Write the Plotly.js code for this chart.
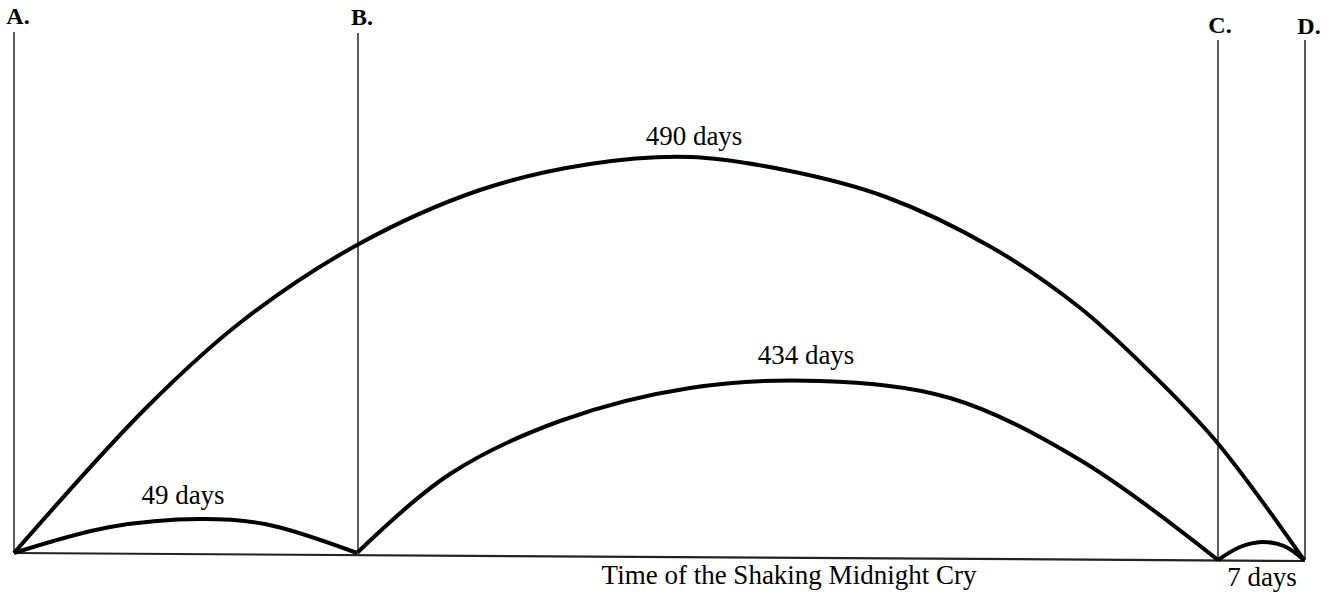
<!DOCTYPE html>
<html>
<head>
<meta charset="utf-8">
<script src="https://cdn.plot.ly/plotly-3.0.1.min.js"></script>
<style>html,body{margin:0;padding:0;background:#fff;}#chart{width:1328px;height:596px;}</style>
</head>
<body>
<div id="chart"></div>
<script>
// Diagram coordinates (x: left→right, y: top→bottom)
const markerNames = ['A.', 'B.', 'C.', 'D.'];
const markerX = [14, 358, 1218, 1305];
const markerTop = [32, 33, 40, 40];
const markerBase = [553, 553, 560, 560];
const markerLabelX = [18, 362, 1220, 1309];
const markerLabelY = [18, 19, 27, 28];

const baseX = [14, 1305];
const baseY = [553, 561];

const arc490X = [14, 147, 241, 357, 480, 590, 690, 790, 886, 991, 1079, 1145, 1215, 1304];
const arc490Y = [553, 407, 322, 245, 190, 164, 157, 171, 197, 247, 307, 367, 440, 560];

const arc434X = [357, 450, 560, 690, 820, 950, 1080, 1218];
const arc434Y = [553, 474, 421, 388, 381, 398, 460, 560];

const arc49X = [14, 110, 200, 265, 357];
const arc49Y = [553, 527, 519, 524, 553];

const arc7X = [1218, 1240, 1262, 1284, 1304];
const arc7Y = [560, 547, 542, 546, 560];

const spanLabels = ['490 days', '434 days', '49 days', '7 days', 'Time of the Shaking Midnight Cry'];
const spanLabelX = [694, 806, 183, 1262, 789];
const spanLabelY = [138, 357, 497, 579, 577];

const traces = [];
// vertical marker lines
for (let i = 0; i < markerNames.length; i++) {
  traces.push({x: [markerX[i], markerX[i]], y: [markerTop[i], markerBase[i]], mode: 'lines',
    line: {color: '#333', width: 1.6}, hoverinfo: 'skip', showlegend: false});
}
// baseline
traces.push({x: baseX, y: baseY, mode: 'lines', line: {color: '#222', width: 2.2}, hoverinfo: 'skip', showlegend: false});
// arcs
[[arc490X, arc490Y], [arc434X, arc434Y], [arc49X, arc49Y], [arc7X, arc7Y]].forEach(a => {
  traces.push({x: a[0], y: a[1], mode: 'lines', line: {color: '#000', width: 4, shape: 'spline', smoothing: 1},
    hoverinfo: 'skip', showlegend: false});
});
// marker labels
traces.push({x: markerLabelX, y: markerLabelY, mode: 'text', text: markerNames.map(t => '<b>' + t + '</b>'),
  textfont: {family: 'Liberation Serif, serif', size: 24, color: '#000'}, hoverinfo: 'skip', showlegend: false});
// span labels
traces.push({x: spanLabelX, y: spanLabelY, mode: 'text', text: spanLabels,
  textfont: {family: 'Liberation Serif, serif', size: 27, color: '#000'}, hoverinfo: 'skip', showlegend: false});

const layout = {
  width: 1328, height: 596,
  margin: {l: 0, r: 0, t: 0, b: 0},
  paper_bgcolor: '#fff', plot_bgcolor: '#fff',
  xaxis: {range: [0, 1328], visible: false, fixedrange: true},
  yaxis: {range: [596, 0], visible: false, fixedrange: true},
  showlegend: false
};
Plotly.newPlot('chart', traces, layout, {displayModeBar: false, staticPlot: true});
</script>
</body>
</html>
